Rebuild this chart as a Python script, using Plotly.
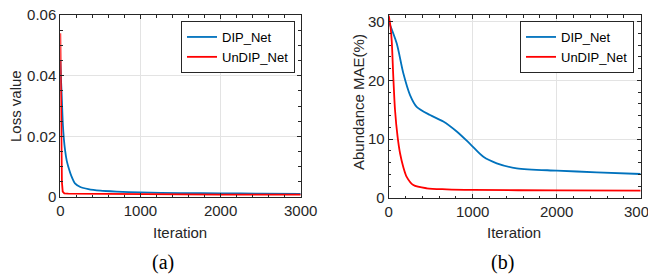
import plotly.graph_objects as go
from plotly.subplots import make_subplots

# ---- data (a): loss value ----
iter_loss_dip = [0, 10, 17, 30, 45, 59, 80, 100, 140, 183, 250, 350, 500, 700, 1000, 1500, 2000, 2500, 3000]
loss_dip = [0.045, 0.038, 0.034, 0.025, 0.019, 0.0155, 0.012, 0.010, 0.0068, 0.0045, 0.0033, 0.0026,
            0.0021, 0.0018, 0.0015, 0.0013, 0.0012, 0.0011, 0.0010]
iter_loss_undip = [0, 5, 10, 15, 20, 30, 50, 100, 500, 1000, 2000, 3000]
loss_undip = [0.054, 0.040, 0.025, 0.012, 0.005, 0.0018, 0.0012, 0.0011, 0.0010, 0.0009, 0.0008, 0.0008]

# ---- data (b): abundance MAE (%) ----
iter_mae_dip = [0, 95, 174, 254, 333, 492, 650, 810, 968, 1127, 1286, 1524, 2000, 2476, 3000]
mae_dip = [30.0, 26.3, 21.2, 17.5, 15.5, 14.1, 13.0, 11.3, 9.2, 7.0, 5.9, 5.05, 4.65, 4.37, 4.08]
iter_mae_undip = [0, 18, 36, 55, 75, 105, 135, 175, 214, 293, 452, 690, 1000, 2000, 3000]
mae_undip = [31.0, 29.5, 26.7, 20.5, 15.0, 10.5, 7.6, 5.2, 3.6, 2.2, 1.65, 1.48, 1.38, 1.28, 1.25]

x_ticks = [0, 1000, 2000, 3000]
loss_ticks = [0, 0.02, 0.04, 0.06]
loss_ticklabels = ["0", "0.02", "0.04", "0.06"]
mae_ticks = [0, 10, 20, 30]

BLUE = "#0072BD"
RED = "#FF0000"
AX = "#262626"
GRID = "#e3e3e3"
FONT = "Liberation Sans, Arial, sans-serif"
SERIF = "Liberation Serif, Times New Roman, serif"

W, H = 656, 275
OFF = 8  # page body margin offset

def px(x):
    return (x - OFF) / W

def py(y):
    return 1 - (y - OFF) / H

fig = make_subplots(rows=1, cols=2)

fig.add_trace(go.Scatter(x=iter_loss_dip, y=loss_dip, mode="lines", name="DIP_Net",
                         line=dict(color=BLUE, width=1.8, shape="spline", smoothing=0.6),
                         legend="legend"), row=1, col=1)
fig.add_trace(go.Scatter(x=iter_loss_undip, y=loss_undip, mode="lines", name="UnDIP_Net",
                         line=dict(color=RED, width=1.8),
                         legend="legend"), row=1, col=1)
fig.add_trace(go.Scatter(x=iter_mae_dip, y=mae_dip, mode="lines", name="DIP_Net",
                         line=dict(color=BLUE, width=1.8, shape="spline", smoothing=0.8),
                         legend="legend2"), row=1, col=2)
fig.add_trace(go.Scatter(x=iter_mae_undip, y=mae_undip, mode="lines", name="UnDIP_Net",
                         line=dict(color=RED, width=1.8, shape="spline", smoothing=0.8),
                         legend="legend2"), row=1, col=2)

common_axis = dict(
    automargin=False, ticklabeloverflow="allow",
    showline=True, linecolor=AX, linewidth=1, mirror="ticks",
    ticks="inside", ticklen=4, tickcolor=AX, tickwidth=1,
    showgrid=True, gridcolor=GRID, gridwidth=1, zeroline=False,
    tickfont=dict(family=FONT, size=15, color=AX),
)

fig.update_xaxes(**common_axis, range=[0, 3000], tickvals=x_ticks,
                 minor=dict(dtick=200, ticks="inside", ticklen=2.5, tickcolor=AX, showgrid=False))
fig.update_xaxes(domain=[px(60.3), px(300.7)], row=1, col=1)
fig.update_xaxes(domain=[px(388.7), px(640.7)], row=1, col=2)

fig.update_yaxes(**common_axis)
fig.update_yaxes(domain=[py(197), py(15)], range=[0, 0.06], tickvals=loss_ticks,
                 ticktext=loss_ticklabels,
                 minor=dict(dtick=0.005, ticks="inside", ticklen=2.5, tickcolor=AX, showgrid=False),
                 row=1, col=1)
fig.update_yaxes(domain=[py(198), py(15)], range=[0, 31.1], tickvals=mae_ticks,
                 minor=dict(dtick=2, ticks="inside", ticklen=2.5, tickcolor=AX, showgrid=False),
                 row=1, col=2)

legend_style = dict(
    xanchor="right", yanchor="top",
    bgcolor="white", bordercolor=AX, borderwidth=1,
    font=dict(family=FONT, size=13, color="#000000"),
    itemwidth=30, tracegroupgap=0,
)
fig.update_layout(
    legend=dict(x=px(295), y=py(21), **legend_style),
    legend2=dict(x=px(634), y=py(21), **legend_style),
)

def ann(text, x, y, size, family=FONT, color=AX, angle=0):
    return dict(text=text, x=px(x), y=py(y), xref="paper", yref="paper",
                xanchor="center", yanchor="middle", textangle=angle,
                showarrow=False, font=dict(family=family, size=size, color=color))

annotations = [
    ann("Iteration", 180, 232, 15),
    ann("Iteration", 514, 232, 15),
    ann("Loss value", 15, 106, 15, angle=-90),
    ann("Abundance MAE(%)", 358, 102, 15, angle=-90),
    ann("(a)", 163, 262, 20, family=SERIF, color="#000000"),
    ann("(b)", 502, 262, 20, family=SERIF, color="#000000"),
]

fig.update_layout(
    template="none",
    width=W, height=H,
    margin=dict(l=0, r=0, t=0, b=0, pad=0),
    paper_bgcolor="white", plot_bgcolor="white",
    annotations=annotations,
    showlegend=True,
)

fig.write_html("out.html")
